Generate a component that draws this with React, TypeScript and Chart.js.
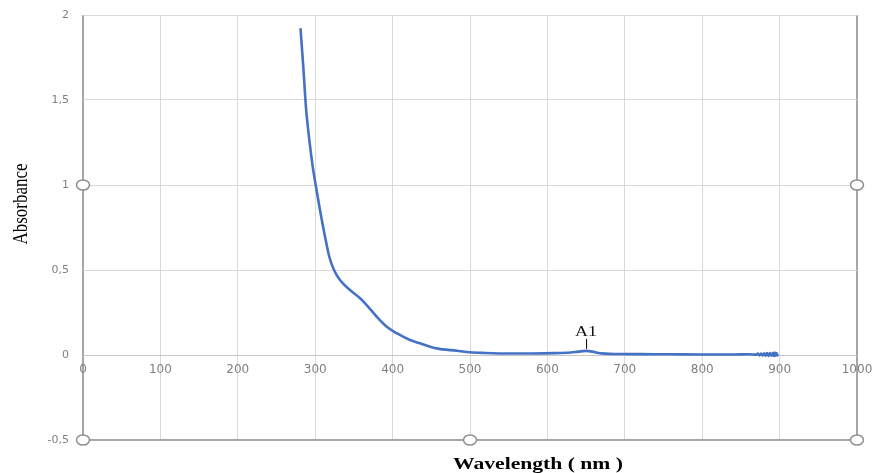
import React, { useEffect, useRef } from "react";
import { Chart, registerables } from "chart.js";

Chart.register(...registerables);

const wavelengths: number[] = [
  281, 284.6, 288, 292.4, 296.8, 301, 306.2, 312.7, 318.2, 324.3, 332, 345, 358, 366.5, 379.5, 392.4,
  405.3, 422.5, 435.4, 457, 483, 500, 520, 550, 580, 610, 630, 640, 650, 658, 666, 675, 690, 720, 760,
  800, 840, 860, 870, 872, 874, 876, 878, 880, 882, 884, 886, 888, 890, 892, 893, 894, 895, 896, 897, 898,
];
const absorbance: number[] = [
  1.922, 1.696, 1.461, 1.265, 1.108, 0.99, 0.853, 0.696, 0.578, 0.5, 0.441, 0.382, 0.334, 0.294, 0.225, 0.166,
  0.128, 0.088, 0.069, 0.039, 0.025, 0.016, 0.012, 0.009, 0.009, 0.011, 0.015, 0.02, 0.024, 0.02, 0.012, 0.008, 0.006, 0.005, 0.004,
  0.003, 0.003, 0.004, 0.002, 0.008, -0.002, 0.009, -0.003, 0.01, -0.004, 0.011, -0.005, 0.012, -0.004, 0.013, -0.006, 0.015, -0.004, 0.012, -0.003, 0.006,
];

const xTicks: number[] = [0, 100, 200, 300, 400, 500, 600, 700, 800, 900, 1000];
const yTicks: number[] = [-0.5, 0, 0.5, 1, 1.5, 2];
const peakLabel = "A1";
const peakX = 650;
const peakY = 0.024;
const xTitle = "Wavelength ( nm )";
const yTitle = "Absorbance";

export default function App() {
  const ref = useRef<HTMLCanvasElement | null>(null);
  useEffect(() => {
    if (!ref.current) return;
    const overlay = {
      id: "overlay",
      afterDraw(chart: any) {
        const ctx = chart.ctx;
        const ca = chart.chartArea;
        const xs = chart.scales.x;
        const ys = chart.scales.y;
        ctx.save();
        const px = xs.getPixelForValue(peakX);
        const py = ys.getPixelForValue(peakY);
        ctx.strokeStyle = "#000";
        ctx.lineWidth = 1;
        ctx.beginPath();
        ctx.moveTo(px + 0.5, py - 2);
        ctx.lineTo(px + 0.5, py - 12);
        ctx.stroke();
        ctx.fillStyle = "#111";
        ctx.font = "15px 'Liberation Serif'";
        ctx.textAlign = "center";
        ctx.textBaseline = "alphabetic";
        ctx.save();
        ctx.translate(px, py - 15);
        ctx.scale(1.2, 1);
        ctx.fillText(peakLabel, 0, 0);
        ctx.restore();
        ctx.save();
        ctx.translate(538, 469);
        ctx.scale(1.35, 1);
        ctx.font = "bold 16px 'Liberation Serif'";
        ctx.fillStyle = "#000";
        ctx.fillText(xTitle, 0, 0);
        ctx.restore();
        ctx.save();
        ctx.translate(27, 204);
        ctx.rotate(-Math.PI / 2);
        ctx.scale(1, 1.2);
        ctx.font = "17px 'Liberation Serif'";
        ctx.fillStyle = "#000";
        ctx.textAlign = "center";
        ctx.fillText(yTitle, 0, 0);
        ctx.restore();
        const handles = [
          [ca.left, ys.getPixelForValue(1)],
          [ca.right, ys.getPixelForValue(1)],
          [ca.left, ca.bottom],
          [(ca.left + ca.right) / 2, ca.bottom],
          [ca.right, ca.bottom],
        ];
        ctx.fillStyle = "#fff";
        ctx.strokeStyle = "#8c8c8c";
        ctx.lineWidth = 1.5;
        for (const [hx, hy] of handles) {
          ctx.beginPath();
          ctx.ellipse(hx, hy, 6.5, 5, 0, 0, Math.PI * 2);
          ctx.fill();
          ctx.stroke();
        }
        ctx.restore();
      },
    };
    const chart = new Chart(ref.current, {
      type: "line",
      data: {
        datasets: [
          {
            data: wavelengths.map((w, i) => ({ x: w, y: absorbance[i] })),
            borderColor: "#4472C4",
            borderWidth: 2.6,
            pointRadius: 0,
            cubicInterpolationMode: "monotone",
            fill: false,
          },
        ],
      },
      options: {
        animation: false,
        responsive: false,
        maintainAspectRatio: false,
        layout: { padding: { left: 0, right: 15, top: 15, bottom: 33 } },
        plugins: { legend: { display: false }, tooltip: { enabled: false } },
        scales: {
          x: {
            type: "linear",
            position: { y: 0 } as any,
            min: 0,
            max: 1000,
            afterBuildTicks: (s: any) => {
              s.ticks = xTicks.map((v) => ({ value: v }));
            },
            afterFit: (s: any) => {
              s.paddingLeft = 0;
              s.paddingRight = 0;
              s.paddingTop = 0;
              s.paddingBottom = 0;
            },
            ticks: {
              color: "#808080",
              font: { family: "'DejaVu Sans'", size: 12 },
              padding: 8,
              maxRotation: 0,
              autoSkip: false,
              callback: (v: any) => String(v),
            },
            grid: {
              drawTicks: false,
              color: (c: any) => (c.tick && (c.tick.value === 0 || c.tick.value === 1000) ? "#a6a6a6" : "#d9d9d9"),
              lineWidth: (c: any) => (c.tick && (c.tick.value === 0 || c.tick.value === 1000) ? 2 : 1),
            },
            border: { display: false },
          },
          y: {
            type: "linear",
            min: -0.5,
            max: 2,
            afterBuildTicks: (s: any) => {
              s.ticks = yTicks.map((v) => ({ value: v }));
            },
            afterFit: (s: any) => {
              s.width = 83;
              s.paddingLeft = 0;
              s.paddingRight = 0;
              s.paddingTop = 0;
              s.paddingBottom = 0;
            },
            ticks: {
              color: "#808080",
              font: { family: "'DejaVu Sans'", size: 11 },
              padding: 14,
              callback: (v: any) => String(v).replace(".", ","),
            },
            grid: {
              drawTicks: false,
              color: (c: any) =>
                c.tick && c.tick.value === -0.5 ? "#a6a6a6" : c.tick && c.tick.value === 0 ? "#c6c6c6" : "#d9d9d9",
              lineWidth: (c: any) => (c.tick && c.tick.value === -0.5 ? 2 : 1),
            },
            border: { display: false },
          },
        },
      },
      plugins: [overlay],
    });
    return () => chart.destroy();
  }, []);
  return (
    <div style={{ position: "fixed", left: 0, top: 0, width: 872, height: 473, background: "#fff" }}>
      <canvas ref={ref} width={872} height={473} style={{ width: 872, height: 473 }} />
    </div>
  );
}
